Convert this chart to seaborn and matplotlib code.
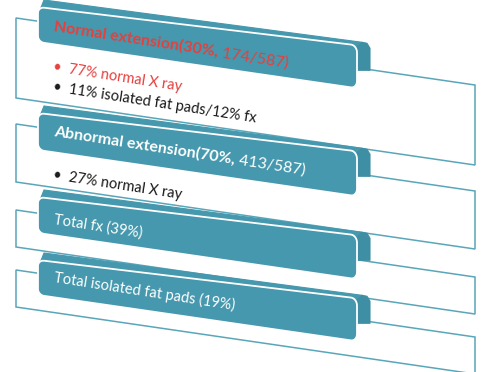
import numpy as np
import matplotlib
matplotlib.use("Agg")
import matplotlib.pyplot as plt
from matplotlib.patches import Polygon
import seaborn as sns

# ---------------- data ----------------
header_bold = ["Normal extension(30%,", "Abnormal extension(70%,", "", ""]
header_regular = [" 174/587)", " 413/587)", "Total fx (39%)", "Total isolated fat pads (19%)"]
header_colors = ["#E5403E", "#FFFFFF", "#FFFFFF", "#FFFFFF"]
bullet_texts = [["77% normal X ray", "11% isolated fat pads/12% fx"],
                ["27% normal X ray"], [], []]
bullet_colors = [["#E5403E", "#1A1A1A"], ["#1A1A1A"], [], []]

# ---------------- layout (pixels) ----------------
box_top = [18, 124, 210, 270]
box_bottom = [98, 182, 247, 307]
banner_top = [7, 113, 197, 260]
banner_bottom = [42, 150, 233, 295]
header_base = [31, 136, 224, 282]
bullet_base = [[71, 91], [179], [], []]

BOX_X0, BOX_X1, BOX_K = 16, 475, 0.146
BAN_X0, BAN_X1 = 38, 357
TOP_K, BOT_K = 0.12, 0.145
TEAL = "#4598AD"
TEAL_SIDE = "#3F8FA4"
LINE = "#5AA6B9"
ANGLE = -8.8

sns.set_theme(style="white")
plt.rcParams["font.family"] = ["Lato", "DejaVu Sans"]

fig = plt.figure(figsize=(4.85, 3.72), dpi=100)
ax = fig.add_axes([0, 0, 1, 1])
ax.set_xlim(0, 485)
ax.set_ylim(372, 0)
ax.axis("off")


def rounded_quad(tl, tr, br, bl, w=320.0, h=36.0, r=6.0, n=8):
    pts = []
    corners = [(w - r, r, -90, 0), (w - r, h - r, 0, 90), (r, h - r, 90, 180), (r, r, 180, 270)]
    for cx, cy, a0, a1 in corners:
        for a in np.linspace(np.radians(a0), np.radians(a1), n):
            pts.append((cx + r * np.cos(a), cy + r * np.sin(a)))
    out = []
    for x, y in pts:
        u, v = x / w, y / h
        p = ((1 - u) * (1 - v) * np.array(tl) + u * (1 - v) * np.array(tr)
             + u * v * np.array(br) + (1 - u) * v * np.array(bl))
        out.append(p)
    return np.array(out)


fig.canvas.draw()
renderer = fig.canvas.get_renderer()


def text_width(s, **kw):
    t = ax.text(0, 0, s, **kw)
    w = t.get_window_extent(renderer).width
    t.remove()
    return w


cosA, sinA = np.cos(np.radians(ANGLE)), np.sin(np.radians(ANGLE))

for i in range(4):
    # white box behind
    dy = BOX_K * (BOX_X1 - BOX_X0)
    box = Polygon([(BOX_X0, box_top[i]), (BOX_X1, box_top[i] + dy),
                   (BOX_X1, box_bottom[i] + dy), (BOX_X0, box_bottom[i])],
                  closed=True, facecolor="white", edgecolor=LINE, lw=1.1, zorder=1 + i * 10)
    ax.add_patch(box)

    tl = (BAN_X0, banner_top[i])
    tr = (BAN_X1, banner_top[i] + TOP_K * (BAN_X1 - BAN_X0))
    bl = (BAN_X0, banner_bottom[i])
    br = (BAN_X1, banner_bottom[i] + BOT_K * (BAN_X1 - BAN_X0))
    z = 2 + i * 10
    # top strip
    strip = Polygon([(BAN_X0 + 6, tl[1] - 7), (tr[0] + 5, tr[1] - 3), (tr[0] + 2, tr[1] + 3),
                     (BAN_X0 + 2, tl[1] + 3)], closed=True, facecolor=TEAL,
                    edgecolor=TEAL, lw=0.8, joinstyle="round", zorder=z)
    ax.add_patch(strip)
    # side face
    side = Polygon([(tr[0], tr[1] + 2), (tr[0] + 5, tr[1] - 3), (tr[0] + 10, tr[1] - 2),
                    (tr[0] + 13, tr[1] + 3), (tr[0] + 13, tr[1] + 25), (tr[0], tr[1] + 25)],
                   closed=True, facecolor=TEAL_SIDE, edgecolor=TEAL_SIDE, lw=0.8,
                   joinstyle="round", zorder=z)
    ax.add_patch(side)
    # main face
    face = Polygon(rounded_quad(tl, tr, br, bl), closed=True, facecolor=TEAL,
                   edgecolor="white", lw=1.3, zorder=z + 1)
    ax.add_patch(face)

    # header text
    x0, y0 = 53, header_base[i]
    kw_b = dict(fontsize=11.5, fontweight="bold", color=header_colors[i])
    kw_r = dict(fontsize=11.5 if header_bold[i] else 10.5, color=header_colors[i])
    if header_bold[i]:
        ax.text(x0, y0, header_bold[i], rotation=ANGLE, rotation_mode="anchor",
                ha="left", va="baseline", zorder=z + 2, **kw_b)
        w = text_width(header_bold[i], **kw_b)
        x1, y1 = x0 + w * cosA, y0 - w * sinA
    else:
        x1, y1 = x0, y0
    ax.text(x1, y1, header_regular[i], rotation=ANGLE, rotation_mode="anchor",
            ha="left", va="baseline", zorder=z + 2, **kw_r)

    # bullets
    for s, c, yb in zip(bullet_texts[i], bullet_colors[i], bullet_base[i]):
        ax.text(52, yb, "\u2022  " + s, rotation=ANGLE, rotation_mode="anchor",
                ha="left", va="baseline", fontsize=10.5, color=c, zorder=z + 2)

fig.savefig("out.png", dpi=100)
